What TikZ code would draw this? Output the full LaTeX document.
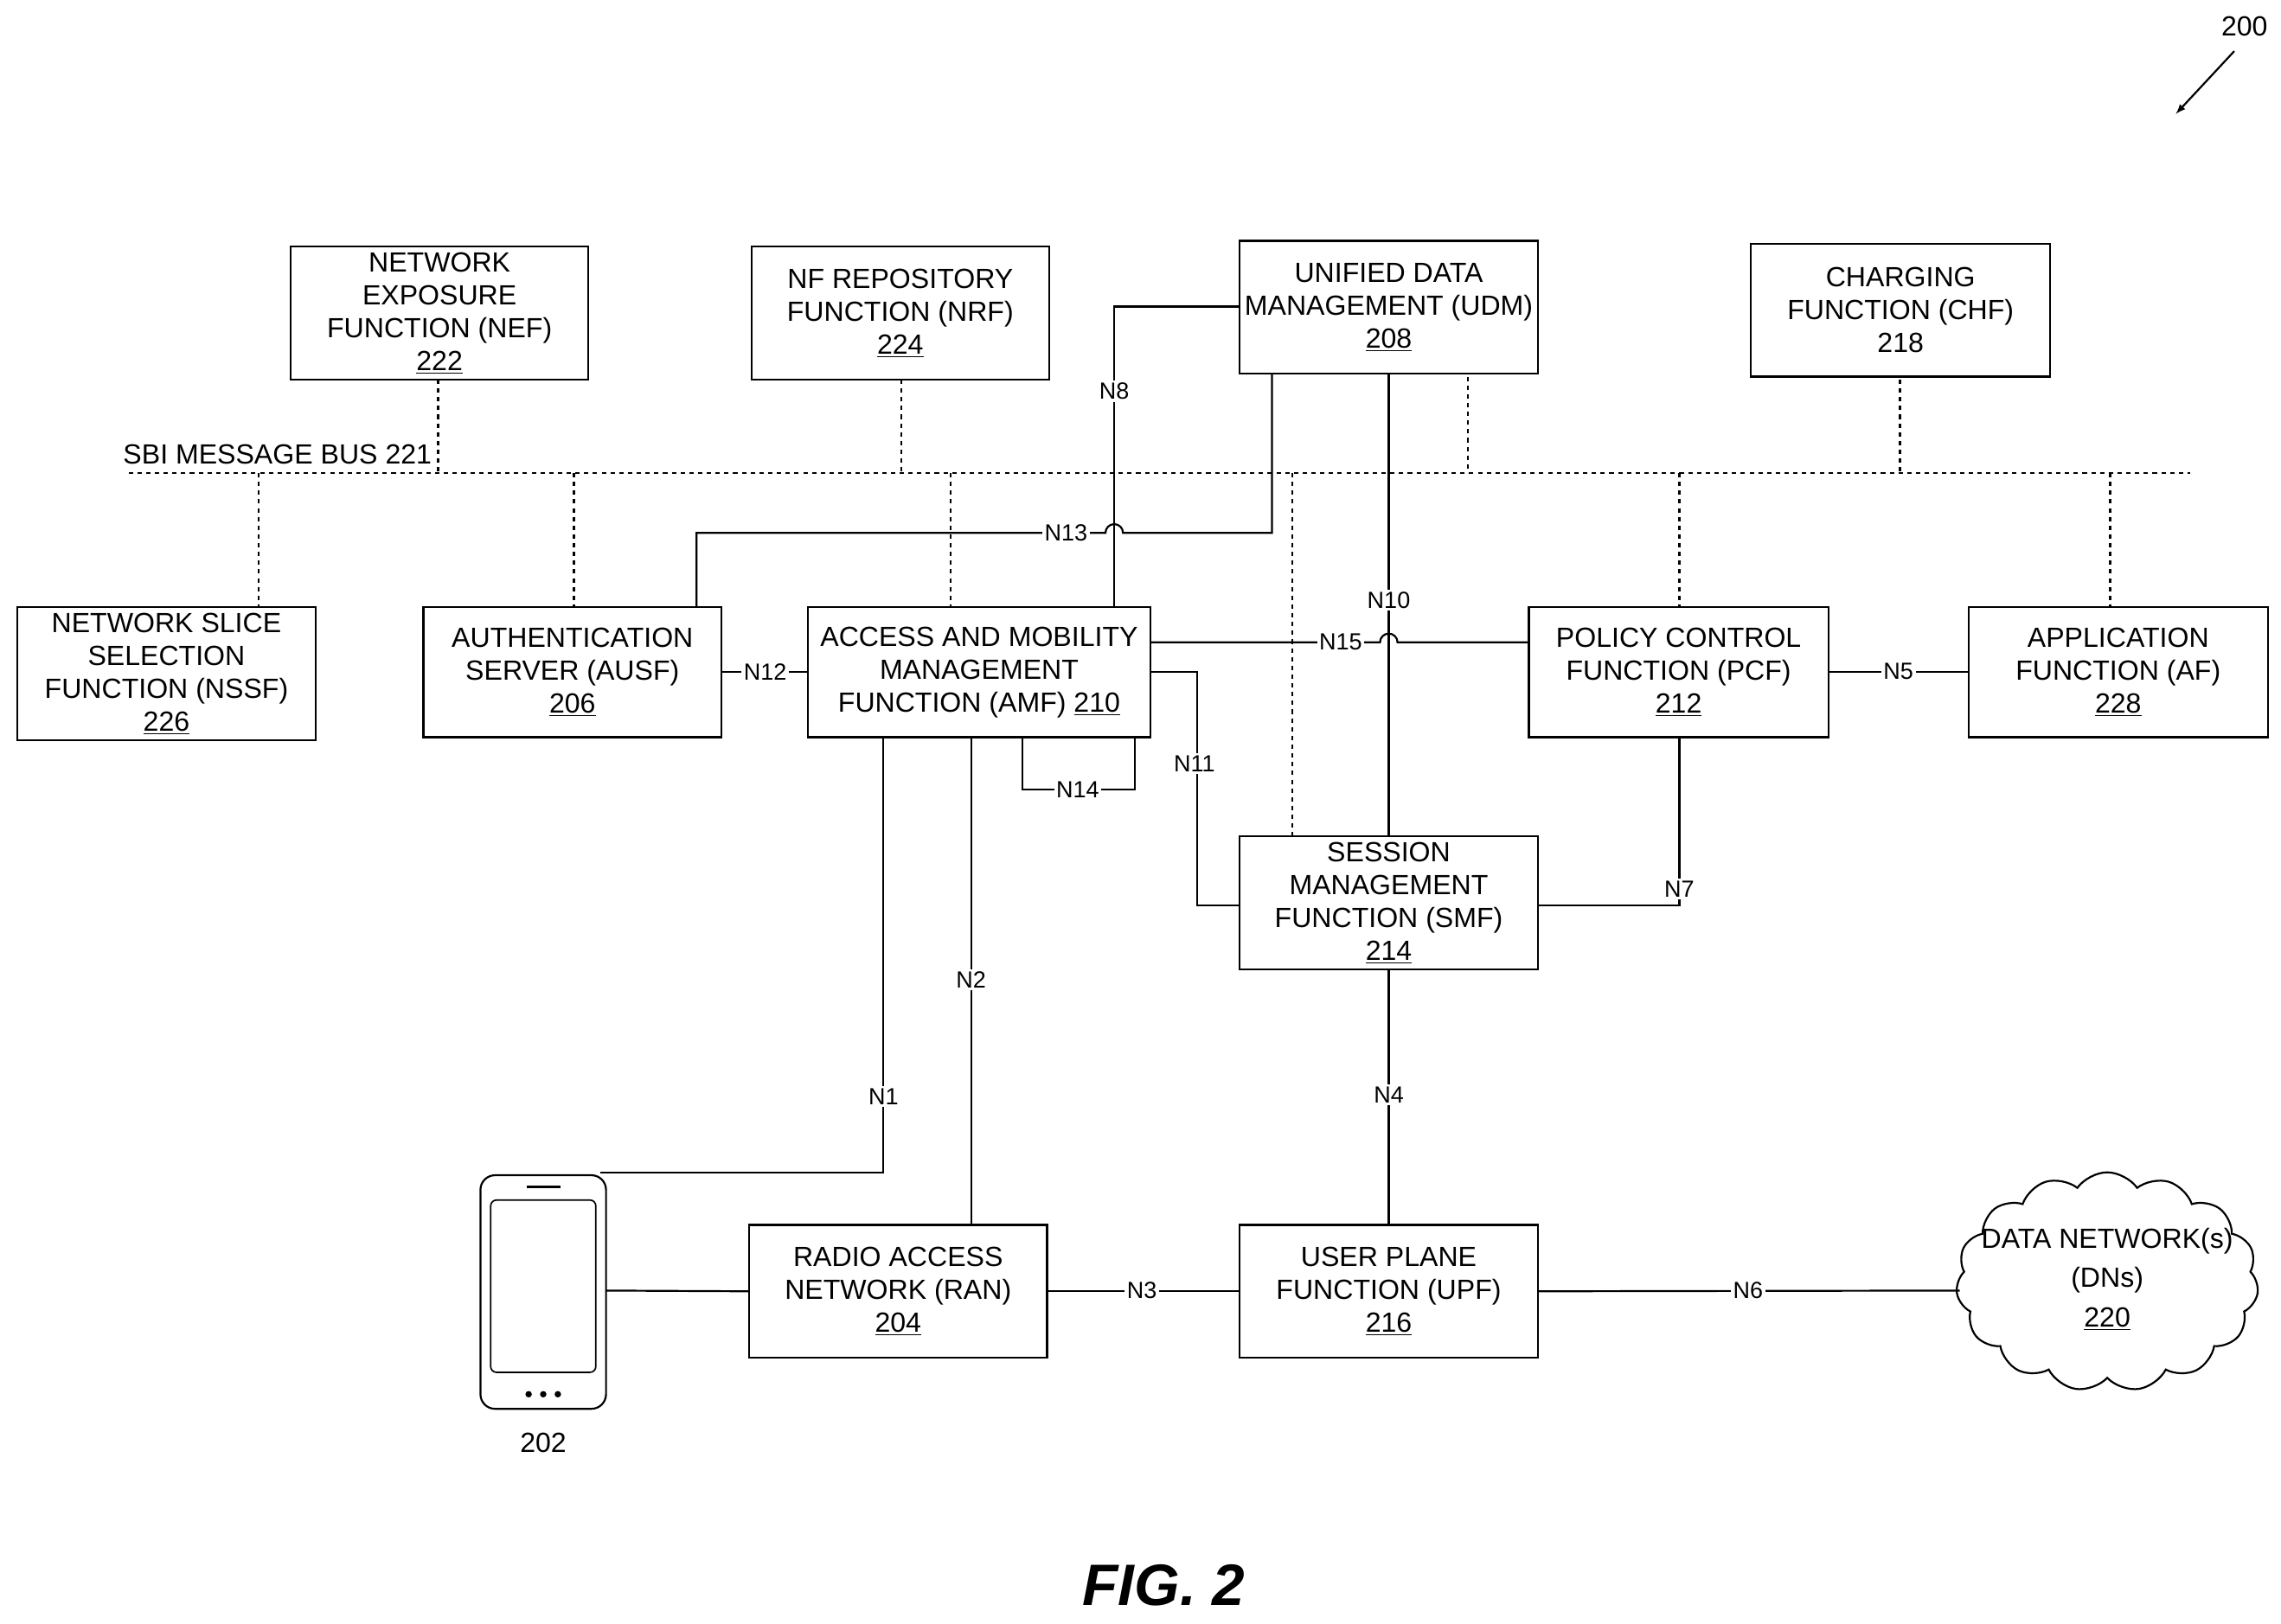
\documentclass[tikz,border=0pt]{standalone}
\usepackage{fontspec}
\setmainfont{Liberation Sans}
\usetikzlibrary{shapes.symbols}
\begin{document}
\begin{tikzpicture}[x=1pt,y=-1pt,
  box/.style={draw,line width=1.3pt,minimum width=204pt,minimum height=91pt,align=center,font=\fontsize{19}{22.5}\selectfont,inner sep=0pt},
  lab/.style={fill=white,inner sep=1.5pt,font=\fontsize{16}{18}\selectfont},
  ln/.style={line width=1.3pt},
  dl/.style={line width=1.3pt,dash pattern=on 3pt off 3pt}]
\useasboundingbox (0,0) rectangle (1562,1112);
\node[box] (nef) at (301,214.5) {NETWORK\\EXPOSURE\\FUNCTION (NEF)\\\underline{222}};
\node[box] (nrf) at (616.5,214.5) {NF REPOSITORY\\FUNCTION (NRF)\\\underline{224}};
\node[box] (udm) at (951,210.5) {UNIFIED DATA\\MANAGEMENT (UDM)\\\underline{208}};
\node[box,minimum width=205pt] (chf) at (1301.5,212.5) {CHARGING\\FUNCTION (CHF)\\218};
\node[box] (nssf) at (114,461.5) {NETWORK SLICE\\SELECTION\\FUNCTION (NSSF)\\\underline{226}};
\node[box,minimum height=89pt] (ausf) at (392,460.5) {AUTHENTICATION\\SERVER (AUSF)\\\underline{206}};
\node[box,minimum width=235pt,minimum height=89pt] (amf) at (670.5,460.5) {ACCESS AND MOBILITY\\MANAGEMENT\\FUNCTION (AMF) \underline{210}};
\node[box,minimum width=205pt,minimum height=89pt] (pcf) at (1149.5,460.5) {POLICY CONTROL\\FUNCTION (PCF)\\\underline{212}};
\node[box,minimum width=205pt,minimum height=89pt] (af) at (1450.5,460.5) {APPLICATION\\FUNCTION (AF)\\\underline{228}};
\node[box] (smf) at (951,618.5) {SESSION\\MANAGEMENT\\FUNCTION (SMF)\\\underline{214}};
\node[box] (ran) at (615,884.5) {RADIO ACCESS\\NETWORK (RAN)\\\underline{204}};
\node[box] (upf) at (951,884.5) {USER PLANE\\FUNCTION (UPF)\\\underline{216}};
\node[cloud,draw,line width=1.3pt,cloud puffs=15,cloud puff arc=110,aspect=1.5,minimum width=207pt,minimum height=150pt,inner sep=0pt] (dn) at (1443,878) {};
\node[align=center,font=\fontsize{19}{27}\selectfont] (dnt) at (1443,876) {DATA NETWORK(s)\\(DNs)\\\underline{220}};
% phone
\draw[ln,rounded corners=10pt] (329,805) rectangle (415,965);
\coordinate (ph) at (415,884);
\draw[line width=1pt,rounded corners=4pt] (336,822) rectangle (408,940);
\draw[line width=1.5pt] (361,813) -- (384,813);
\foreach \x in {362,372,382} \fill (\x,955) circle (2.2pt);
\node[font=\fontsize{19}{22}\selectfont] (n202) at (372,988) {202};
% bus
\coordinate (bl) at (88,324); \coordinate (br) at (1500,324);
\draw[dl] (bl) -- (br);
\node[font=\fontsize{19}{22}\selectfont,fill=white,inner sep=1pt] (bus) at (190,311) {SBI MESSAGE BUS 221};
\foreach \x in {300,617,1301} \draw[dl] (\x,260) -- (\x,324);
\draw[dl] (1005,258) -- (1005,324);
\foreach \x in {177,393,651,1150,1445} \draw[dl] (\x,324) -- (\x,416);
\draw[dl] (885,324) -- (885,573);
% solid
\draw[ln] (763,416) -- (763,210) -- (849,210);
\node[lab] at (763,268) {N8};
\draw[ln] (477,416) -- (477,365) -- (757,365) arc[start angle=180,end angle=360,radius=6] -- (871,365) -- (871,256);
\node[lab] at (730,365) {N13};
\draw[ln] (951,256) -- (951,573);
\node[lab] at (951,411) {N10};
\draw[ln] (788,440) -- (945,440) arc[start angle=180,end angle=360,radius=6] -- (1047,440);
\node[lab] at (918,440) {N15};
\draw[ln] (ausf.east |- 0,460) -- (553,460);
\node[lab] at (524,460) {N12};
\draw[ln] (788,460) -- (820,460) -- (820,620) -- (849,620);
\node[lab] at (818,523) {N11};
\draw[ln] (700,505) -- (700,541) -- (777,541) -- (777,505);
\node[lab] at (738,541) {N14};
\draw[ln] (1150,505) -- (1150,620) -- (1053,620);
\node[lab] at (1150,609) {N7};
\draw[ln] (1252,460) -- (1348,460);
\node[lab] at (1300,460) {N5};
\draw[ln] (605,505) -- (605,803) -- (411,803);
\node[lab] at (605,751) {N1};
\draw[ln] (665,505) -- (665,839);
\node[lab] at (665,671) {N2};
\draw[ln] (951,664) -- (951,839);
\node[lab] at (951,750) {N4};
\draw[ln] (ph) -- (ran.west);
\draw[ln] (ran.east) -- (upf.west);
\node[lab] at (782,884) {N3};
\coordinate (dnl) at (1342,884);
\draw[ln] (upf.east) -- (dnl);
\node[lab] at (1197,884) {N6};
\node[font=\fontsize{19}{22}\selectfont] (n200) at (1537,18) {200};
\draw[ln,-latex] (1530,35) -- (1490,78);
\node[font=\fontsize{40}{44}\selectfont\bfseries\itshape] (fig) at (797,1086) {FIG. 2};
\end{tikzpicture}
\end{document}
